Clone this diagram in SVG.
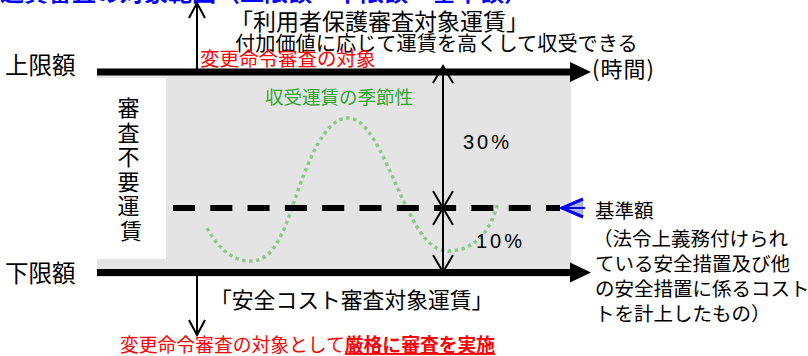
<svg xmlns="http://www.w3.org/2000/svg" width="808" height="356" viewBox="0 0 808 356">
<defs>
<style>
.jp{font-family:"Noto Sans CJK JP","Liberation Sans",sans-serif;fill:#000}
.red{fill:#ff0000}
.grn{fill:#2ea52e}
.thin{stroke:#000;stroke-width:2;fill:none}
.bar{stroke:#000;stroke-width:7;fill:none}
.pct{font-family:"Liberation Sans",Arial,sans-serif;font-size:20px;letter-spacing:3px;fill:#000}
</style>
<linearGradient id="bg" x1="0" x2="1" y1="0" y2="0">
<stop offset="0" stop-color="#b8c0f5"/>
<stop offset="1" stop-color="#8090ee"/>
</linearGradient>
</defs>
<rect width="808" height="356" fill="#fff"/>

<g id="title">
<text class="jp" x="0" y="1" font-size="24" font-weight="bold" style="fill:#0000ff">運賃審査の対象範囲（上限額・下限額・基準額）</text>
</g>

<g id="band">
<rect x="97" y="70" width="474" height="207" fill="#e4e4e4"/>
</g>

<g id="unreviewed">
<rect x="97" y="78" width="69" height="181" fill="#fff"/>
<text class="jp" font-size="22" text-anchor="middle">
<tspan x="131" y="116">審</tspan>
<tspan x="131" y="140.5">査</tspan>
<tspan x="131" y="165">不</tspan>
<tspan x="131" y="189.5">要</tspan>
<tspan x="131" y="214">運</tspan>
<tspan x="131" y="238.5">賃</tspan>
</text>
</g>

<g id="seasonal">
<path d="M207,228 C220,252 236,262 253,261 C272,260 283,235 293,205 C308,160 325,118 348,118 C372,118 390,175 407,208 C420,235 432,252 450,251 C472,250 490,235 498,202" fill="none" stroke="#8fc88f" stroke-width="3.5" stroke-dasharray="3.5 3.5"/>
<text class="jp grn" x="265" y="104" font-size="18.5">収受運賃の季節性</text>
</g>

<g id="connectors">
<line class="bar" x1="97" y1="72" x2="572" y2="72"/>
<polygon points="570,62 591,72 570,82" fill="#000"/>
<line class="bar" x1="97" y1="272.5" x2="572" y2="272.5"/>
<polygon points="570,262.5 591,272.5 570,282.5" fill="#000"/>
<line x1="173" y1="208" x2="560" y2="208" stroke="#000" stroke-width="6" stroke-dasharray="22 15.3"/>
<line class="thin" x1="197" y1="69" x2="197" y2="3"/>
<polyline class="thin" points="189,18 197,3 205,18"/>
<line class="thin" x1="197" y1="276" x2="197" y2="335"/>
<polyline class="thin" points="189,320 197,335 205,320"/>
<line class="thin" x1="443" y1="66" x2="443" y2="272"/>
<polyline class="thin" points="433,83 443,66 453,83"/>
<polyline class="thin" points="433,191 443,208 453,191"/>
<polyline class="thin" points="433,225 443,208 453,225"/>
<polyline class="thin" points="433,255 443,272 453,255"/>
<polygon points="560,208 583,199 583,217" fill="url(#bg)" opacity="0.7"/>
<polyline points="583,199 562,208 583,217" fill="none" stroke="#0000ff" stroke-width="3"/>
<line x1="566" y1="208" x2="585" y2="208" stroke="#0000ff" stroke-width="2"/>
</g>

<g id="upper">
<text class="jp" x="5" y="74" font-size="23.5">上限額</text>
<text class="jp" x="230" y="30" font-size="23">「利用者保護審査対象運賃」</text>
<text class="jp" x="235" y="51" font-size="20.2">付加価値に応じて運賃を高くして収受できる</text>
<text class="jp red" x="200" y="66" font-size="19.5">変更命令審査の対象</text>
<text class="jp" x="592" y="77" font-size="22" letter-spacing="1">(時間)</text>
</g>

<g id="pct">
<text class="pct" x="463" y="149">30%</text>
<text class="pct" x="476" y="248">10%</text>
</g>

<g id="base">
<text class="jp" font-size="19.5">
<tspan x="595" y="218">基準額</tspan>
<tspan x="593" y="246">（法令上義務付けられ</tspan>
<tspan x="595" y="271">ている安全措置及び他</tspan>
<tspan x="595" y="296">の安全措置に係るコスト</tspan>
<tspan x="595" y="321">トを計上したもの）</tspan>
</text>
</g>

<g id="lower">
<text class="jp" x="5" y="282" font-size="23.5">下限額</text>
<text class="jp" x="210" y="308" font-size="21.8">「安全コスト審査対象運賃」</text>
<text class="jp red" x="120" y="352" font-size="18.8">変更命令審査の対象として<tspan font-weight="bold" text-decoration="underline">厳格に審査を実施</tspan></text>
</g>
</svg>
